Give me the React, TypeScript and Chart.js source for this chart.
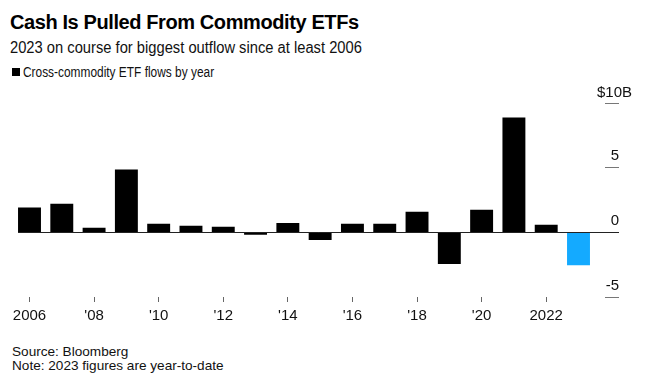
import React, { useEffect, useRef } from "react";
import { Chart, registerables } from "chart.js";

Chart.register(...registerables);

const years: number[] = [2006, 2007, 2008, 2009, 2010, 2011, 2012, 2013, 2014, 2015, 2016, 2017, 2018, 2019, 2020, 2021, 2022, 2023];
const flows: number[] = [1.9, 2.2, 0.35, 4.85, 0.65, 0.5, 0.42, -0.2, 0.72, -0.6, 0.66, 0.66, 1.58, -2.45, 1.74, 8.85, 0.58, -2.55];
const yTicks: number[] = [-5, 0, 5, 10];
const xLabelYears: number[] = [2006, 2008, 2010, 2012, 2014, 2016, 2018, 2020, 2022];

const FONT = '"Liberation Sans", Arial, Helvetica, sans-serif';

function xLabel(y: number): string | null {
  if (!xLabelYears.includes(y)) return null;
  if (y === 2006 || y === 2022) return String(y);
  return "'" + String(y).slice(2);
}

const overlayPlugin = {
  id: "overlay",
  afterDatasetsDraw(chart: any) {
    const ctx = chart.ctx;
    const yScale = chart.scales.y;
    const meta = chart.getDatasetMeta(0);
    const first = meta.data[0] as any;
    const lineEnd = 619;
    const tickStart = 605;
    ctx.save();
    // zero line
    const y0 = Math.round(yScale.getPixelForValue(0)) + 0.5;
    ctx.strokeStyle = "#222";
    ctx.lineWidth = 1;
    ctx.beginPath();
    ctx.moveTo(first.x - first.width / 2, y0);
    ctx.lineTo(lineEnd, y0);
    ctx.stroke();
    // y ticks
    ctx.font = `15px ${FONT}`;
    ctx.fillStyle = "#111";
    ctx.textBaseline = "alphabetic";
    for (const v of yTicks) {
      const py = Math.round(yScale.getPixelForValue(v)) + 0.5;
      if (v !== 0) {
        ctx.strokeStyle = "#777";
        ctx.beginPath();
        ctx.moveTo(tickStart, py);
        ctx.lineTo(lineEnd, py);
        ctx.stroke();
      }
      const by = py - 8;
      if (v === yTicks[yTicks.length - 1]) {
        ctx.textAlign = "right";
        ctx.fillText("$" + String(v), lineEnd + 3, by + 1);
        ctx.textAlign = "left";
        ctx.fillText("B", lineEnd + 3, by + 1);
      } else {
        ctx.textAlign = "right";
        ctx.fillText(String(v), lineEnd, by);
      }
    }
    ctx.restore();
  },
};

function ChartView() {
  const ref = useRef<HTMLCanvasElement | null>(null);
  useEffect(() => {
    if (!ref.current) return;
    const chart = new Chart(ref.current, {
      type: "bar",
      data: {
        labels: years.map(String),
        datasets: [
          {
            data: flows,
            backgroundColor: years.map((y) => (y === 2023 ? "#14AAFF" : "#000000")),
            barPercentage: 0.71,
            categoryPercentage: 1,
            borderWidth: 0,
          },
        ],
      },
      options: {
        responsive: false,
        maintainAspectRatio: false,
        animation: false,
        layout: { padding: { left: 13.35, right: 50.35, top: 22.7, bottom: 0 } },
        plugins: { legend: { display: false }, tooltip: { enabled: false } },
        scales: {
          x: {
            grid: { drawOnChartArea: false, drawTicks: true, tickLength: 5, color: "#666", offset: false },
            border: { display: false },
            afterFit: (s: any) => {
              s.height = 33;
            },
            ticks: {
              autoSkip: false,
              maxRotation: 0,
              padding: 5,
              color: "#111",
              font: { family: FONT, size: 15 },
              callback: (_v: any, i: number) => xLabel(years[i]),
            },
          },
          y: {
            display: false,
            min: -5,
            max: 10,
          },
        },
      },
      plugins: [overlayPlugin],
    });
    return () => chart.destroy();
  }, []);
  return (
    <canvas
      ref={ref}
      width={645}
      height={250}
      style={{ position: "absolute", left: 0, top: 80, width: 645, height: 250 }}
    />
  );
}

export default function App() {
  const base: React.CSSProperties = { position: "absolute", whiteSpace: "nowrap", color: "#000", fontFamily: FONT, transformOrigin: "0 0" };
  return (
    <div style={{ position: "absolute", left: 0, top: 0, width: 645, height: 385, background: "#fff", overflow: "hidden" }}>
      <div style={{ ...base, left: 10, top: 11.6, fontSize: 20, lineHeight: "20px", fontWeight: 700, letterSpacing: "-0.4px" }}>
        Cash Is Pulled From Commodity ETFs
      </div>
      <div style={{ ...base, left: 10, top: 39.8, fontSize: 16, lineHeight: "16px", color: "#111", transform: "scaleX(0.92)" }}>
        2023 on course for biggest outflow since at least 2006
      </div>
      <div style={{ position: "absolute", left: 12, top: 68, width: 8, height: 8, background: "#000" }} />
      <div style={{ ...base, left: 23, top: 64.8, fontSize: 14, lineHeight: "14px", color: "#111", transform: "scaleX(0.85)" }}>
        Cross-commodity ETF flows by year
      </div>
      <ChartView />
      <div style={{ ...base, left: 12, top: 344.5, fontSize: 13.6, lineHeight: "13.6px", color: "#111" }}>
        Source: Bloomberg
      </div>
      <div style={{ ...base, left: 12, top: 358.5, fontSize: 13.6, lineHeight: "13.6px", color: "#111" }}>
        Note: 2023 figures are year-to-date
      </div>
    </div>
  );
}
